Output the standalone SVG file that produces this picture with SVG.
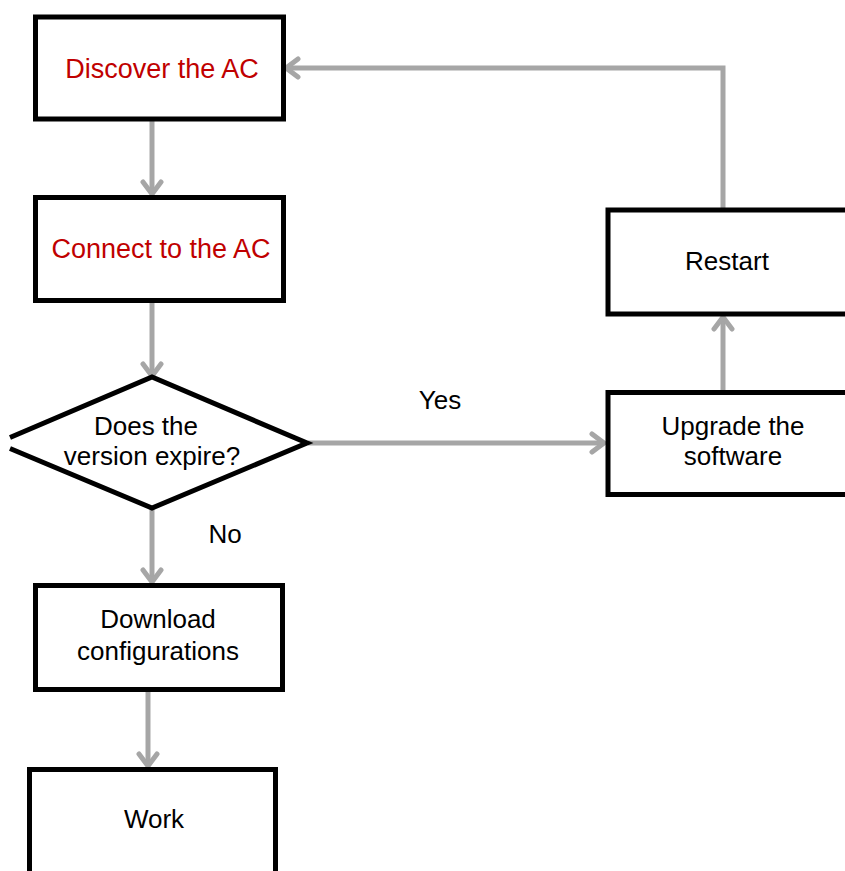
<svg xmlns="http://www.w3.org/2000/svg" width="845" height="871" viewBox="0 0 845 871">
<style>
.box{fill:#fff;stroke:#000;stroke-width:5}
.t{font-family:"Liberation Sans",Arial,sans-serif;font-size:26px;fill:#000;text-anchor:middle}
.red{fill:#C00000;font-size:27px}
.c{fill:none;stroke:#A6A6A6;stroke-width:5}
</style>
<defs>
<marker id="ah" markerUnits="userSpaceOnUse" markerWidth="24" markerHeight="24" viewBox="0 0 24 24" refX="19" refY="12" orient="auto">
<path d="M7,3 L19,12 L7,21" fill="none" stroke="#A6A6A6" stroke-width="5" stroke-linecap="round" stroke-linejoin="round"/>
</marker>
</defs>
<rect width="845" height="871" fill="#fff"/>
<g id="connectors">
<line class="c" x1="152" y1="121" x2="152" y2="194" marker-end="url(#ah)"/>
<line class="c" x1="152" y1="302" x2="152" y2="376" marker-end="url(#ah)"/>
<line class="c" x1="152" y1="509" x2="152" y2="582" marker-end="url(#ah)"/>
<line class="c" x1="148" y1="692" x2="148" y2="766" marker-end="url(#ah)"/>
<line class="c" x1="308" y1="443" x2="604" y2="443" marker-end="url(#ah)"/>
<line class="c" x1="723" y1="391" x2="723" y2="317" marker-end="url(#ah)"/>
<polyline class="c" points="723,209 723,68 286,68" marker-end="url(#ah)"/>
<text class="t" x="440" y="409">Yes</text>
<text class="t" x="225" y="543">No</text>
</g>
<g id="discover">
<rect class="box" x="35.5" y="17" width="248" height="102"/>
<text class="t red" x="162" y="78">Discover the AC</text>
</g>
<g id="connect">
<rect class="box" x="35.5" y="197.5" width="248" height="103"/>
<text class="t red" x="161" y="258">Connect to the AC</text>
</g>
<g id="decision">
<path class="box" d="M10,437.5 L152,377 L307,443 L152,508 L10,448.5"/>
<text class="t" x="146" y="435">Does the</text>
<text class="t" x="152" y="465">version expire?</text>
</g>
<g id="download">
<rect class="box" x="35.5" y="585.5" width="247" height="104"/>
<text class="t" x="158" y="628">Download</text>
<text class="t" x="158" y="660">configurations</text>
</g>
<g id="work">
<rect class="box" x="29.5" y="769.5" width="246" height="120"/>
<text class="t" x="154" y="828">Work</text>
</g>
<g id="restart">
<rect class="box" x="608" y="210" width="260" height="104"/>
<text class="t" x="727" y="270">Restart</text>
</g>
<g id="upgrade">
<rect class="box" x="608" y="392.5" width="260" height="102"/>
<text class="t" x="733" y="435">Upgrade the</text>
<text class="t" x="733" y="465">software</text>
</g>
</svg>
